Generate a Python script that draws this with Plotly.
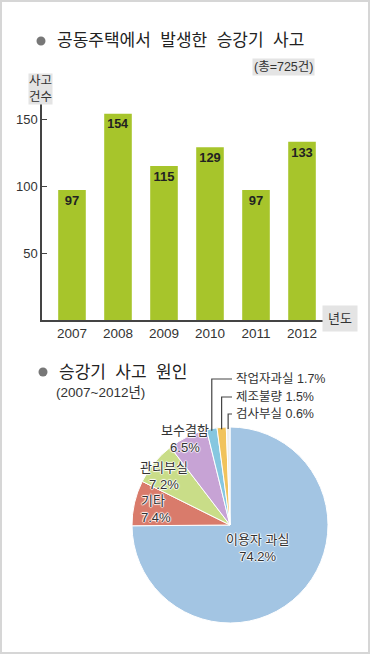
import math
import plotly.graph_objects as go

# ---------------- data ----------------
years = ["2007", "2008", "2009", "2010", "2011", "2012"]
accidents = [97, 154, 115, 129, 97, 133]
y_tick_vals = [50, 100, 150]
total_label = "(총=725건)"

causes = ["이용자 과실", "기타", "관리부실", "보수결함", "작업자과실", "제조불량", "검사부실"]
shares = [74.2, 7.4, 7.2, 6.5, 1.7, 1.5, 0.6]
cause_colors = ["#a3c5e3", "#d97b6b", "#c9dd88", "#c7a3d5", "#86c7e0", "#f1c35c", "#eeeeee"]

# ---------------- helpers (pixel -> paper) ----------------
W, H = 370, 654
def px(x):
    return x / W
def py(y):
    return 1 - y / H

FONT = "Liberation Sans, Arial, Noto Sans CJK KR, sans-serif"

fig = go.Figure()

# ---------------- bar chart ----------------
fig.add_trace(go.Bar(
    x=years, y=accidents, width=0.6,
    marker=dict(color="#a7c52b", line=dict(width=0)),
    text=accidents, texttemplate="<b>%{text}</b>",
    textposition="inside", insidetextanchor="end", textangle=0,
    textfont=dict(size=13, color="#222222", family=FONT),
    hoverinfo="skip", showlegend=False,
))

# ---------------- pie chart ----------------
cx, cy, R = 230, 525, 98
fig.add_trace(go.Pie(
    labels=causes, values=shares, sort=False, direction="clockwise", rotation=0,
    marker=dict(colors=cause_colors, line=dict(color="white", width=1)),
    textinfo="none", hoverinfo="skip", showlegend=False,
    domain=dict(x=[px(cx - R), px(cx + R)], y=[py(cy + R), py(cy - R)]),
))

# ---------------- layout ----------------
fig.update_layout(
    width=W, height=H,
    margin=dict(l=0, r=0, t=0, b=0),
    paper_bgcolor="white", plot_bgcolor="white",
    font=dict(family=FONT, color="#333333"),
    xaxis=dict(
        domain=[px(42), px(328)], anchor="y", type="category",
        range=[-0.652, 5.565], showgrid=False, zeroline=False,
        showline=True, linecolor="#444444", linewidth=1.5,
        ticks="", tickfont=dict(size=13.5, color="#333333", family=FONT),
    ),
    yaxis=dict(
        domain=[py(320), py(100)], anchor="x",
        range=[0, 164.2], showgrid=False, zeroline=False,
        showline=True, linecolor="#444444", linewidth=1.5,
        tickvals=y_tick_vals, ticks="inside", ticklen=5, tickcolor="#444444",
        tickfont=dict(size=13, color="#333333", family=FONT),
    ),
)

ann = []
shapes = []

def note(text, x, y, xanchor="center", size=12.5, color="#333333", **kw):
    ann.append(dict(text=text, x=px(x), y=py(y), xref="paper", yref="paper",
                    xanchor=xanchor, yanchor="middle", showarrow=False,
                    font=dict(size=size, color=color, family=FONT, **kw.pop("fontkw", {})), **kw))

# titles
def bullet(x, y):
    shapes.append(dict(type="circle", xref="paper", yref="paper",
                       x0=px(x - 4.5), x1=px(x + 4.5), y0=py(y + 4.5), y1=py(y - 4.5),
                       fillcolor="#777777", line=dict(width=0)))

bullet(41, 41)
note("공동주택에서  발생한  승강기  사고", 55, 41, "left", size=17, color="#222222")
note(total_label, 283, 67, size=12.5, bgcolor="#e4e4e4", borderpad=1)
note("사고<br>건수", 40, 89, bgcolor="#e4e4e4", borderpad=0)
note("년도", 340, 319, size=13, bgcolor="#e4e4e4", borderpad=5)

bullet(43, 372)
note("승강기  사고  원인", 57, 372, "left", size=17, color="#222222")
note("(2007~2012년)", 54, 392, "left", size=13.5)

# pie labels
halo = "1px 0 1px #fff, -1px 0 1px #fff, 0 1px 1px #fff, 0 -1px 1px #fff"
def pie_label(i, x, y, xanchor="center"):
    note(f"{causes[i]}<br>{shares[i]}%", x, y, xanchor, size=13,
         align="left" if xanchor == "left" else "center", fontkw=dict(shadow=halo))

pie_label(0, 257, 548)
pie_label(1, 139, 509, "left")
pie_label(2, 164, 476)
pie_label(3, 185, 439)

# leader lines for small slices, starting at the slice mid-angle on the rim
total = sum(shares)
label_y = {4: 379, 5: 397, 6: 414}
cum = 0.0
for i, v in enumerate(shares):
    mid = (cum + v / 2) / total * 2 * math.pi
    cum += v
    if i in label_y:
        ex = cx + R * math.sin(mid)
        ey = cy - R * math.cos(mid) + 2
        ly = label_y[i]
        lx = 232
        shapes.append(dict(type="path", xref="paper", yref="paper",
                           path=f"M {px(ex)},{py(ey)} L {px(ex)},{py(ly)} L {px(lx)},{py(ly)}",
                           line=dict(color="#444444", width=1.2)))
        note(f"{causes[i]} {shares[i]}%", lx + 2, ly, "left")

# outer frame
shapes.append(dict(type="rect", xref="paper", yref="paper", x0=px(1), x1=px(W - 1), y0=py(H - 1), y1=py(1),
                   line=dict(color="#d6d6d6", width=2)))

fig.update_layout(annotations=ann, shapes=shapes)
fig.write_html("out.html", config={"displayModeBar": False},
               post_script="document.body.style.margin='0';document.body.style.overflow='hidden';")
